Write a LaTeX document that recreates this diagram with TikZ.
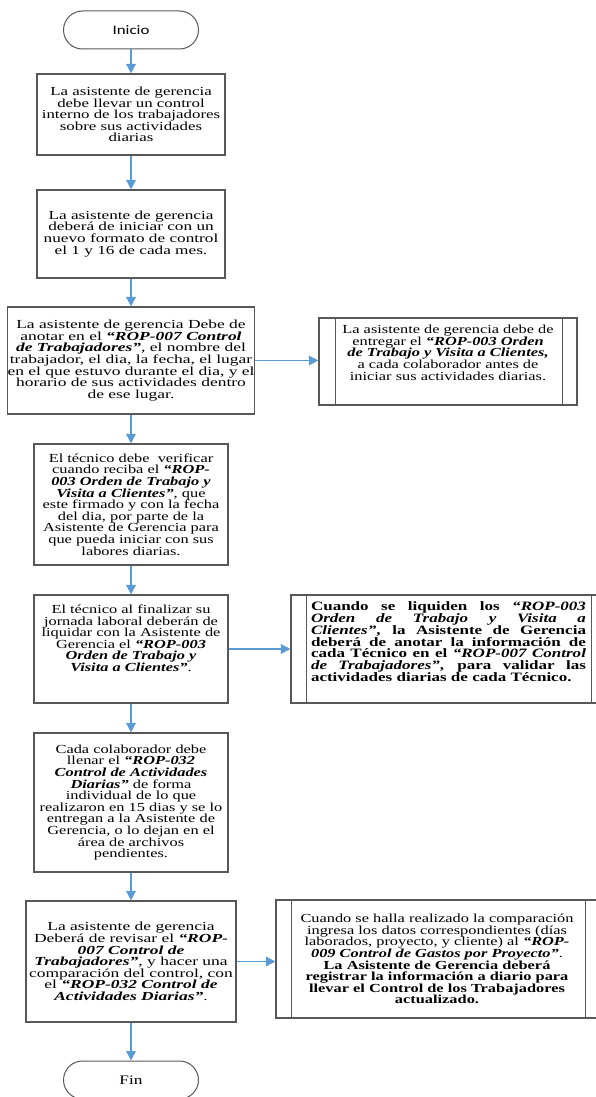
\documentclass[tikz,border=0pt]{standalone}
\usepackage{fontspec}
\setmainfont{Liberation Serif}[FakeStretch=1.33]
% wider cuts of the same face for the boxes with more spread-out lettering
\newfontfamily\wideA{Liberation Serif}[FakeStretch=1.42]
\newfontfamily\wideC{Liberation Serif}[FakeStretch=1.37]
\newfontfamily\wideD{Liberation Serif}[FakeStretch=1.40]
\newfontfamily\labelfont{Carlito}[FakeStretch=1.3]
\usetikzlibrary{shapes.misc,arrows.meta}

\definecolor{boxgray}{RGB}{88,88,88}
\definecolor{flowblue}{RGB}{91,155,213}
\newcommand\refdoc[1]{\textbf{\textit{#1}}}
% one fully justified line of the given width
\newcommand\jline[2]{\makebox[#1][s]{\spaceskip=0pt\xspaceskip=0pt\relax #2}}

\tikzset{
  flowbox/.style={draw=boxgray, line width=1.1pt, rectangle, align=center,
    inner sep=0pt, font=\fontsize{12.3}{11.6}\selectfont},
  procbox/.style={flowbox},
  divider/.style={draw=boxgray, line width=1.1pt},
  terminal/.style={draw=boxgray, line width=1pt, rounded rectangle,
    minimum width=135pt, minimum height=38pt, inner sep=0pt},
  flow/.style={draw=flowblue, line width=1.5pt,
    -{Triangle[length=9.5pt,width=9.5pt]}},
}

\begin{document}
\begin{tikzpicture}[x=1pt,y=-1pt]
\useasboundingbox (0,0) rectangle (595,1097);

% start and end
\node[terminal, font=\labelfont\fontsize{13}{14}\selectfont] (inicio) at (131,30) {Inicio};
\node[terminal, font=\fontsize{13}{14}\selectfont] (fin) at (131,1080) {Fin};

% main column
\node[flowbox, minimum width=188pt, minimum height=81pt,
  font=\wideC\fontsize{12.3}{11.6}\selectfont] (b1) at (131,114.5)
  {La asistente de gerencia\\debe llevar un control\\interno de los trabajadores\\sobre sus actividades\\diarias};

\node[flowbox, minimum width=188pt, minimum height=88pt,
  font=\wideD\fontsize{12.3}{11.9}\selectfont] (b2) at (131,234)
  {La asistente de gerencia\\deberá de iniciar con un\\nuevo formato de control\\el 1 y 16 de cada mes.};

\node[flowbox, minimum width=242pt, minimum height=107pt,
  font=\wideA\fontsize{12.3}{11.6}\selectfont] (b3) at (131,360.5)
  {La asistente de gerencia Debe de\\anotar en el \refdoc{“ROP-007 Control}\\\refdoc{de Trabajadores”}, el nombre del\\trabajador, el dia, la fecha, el lugar\\en el que estuvo durante el dia, y el\\horario de sus actividades dentro\\de ese lugar.};

\node[flowbox, minimum width=194pt, minimum height=121pt] (b4) at (131,504.5)
  {El técnico debe\ \ verificar\\cuando reciba el \refdoc{“ROP-}\\\refdoc{003 Orden de Trabajo y}\\\refdoc{Visita a Clientes”}, que\\este firmado y con la fecha\\del dia, por parte de la\\Asistente de Gerencia para\\que pueda iniciar con sus\\labores diarias.};

\node[flowbox, minimum width=194pt, minimum height=108pt] (b5) at (131,649)
  {El técnico al finalizar su\\jornada laboral deberán de\\liquidar con la Asistente de\\Gerencia el \refdoc{“ROP-003}\\\refdoc{Orden de Trabajo y}\\\refdoc{Visita a Clientes”}.\\[10pt]};

\node[flowbox, minimum width=194pt, minimum height=139pt] (b6) at (131,802.5)
  {Cada colaborador debe\\llenar el \refdoc{“ROP-032}\\\refdoc{Control de Actividades}\\\refdoc{Diarias”} de forma\\individual de lo que\\realizaron en 15 dias y se lo\\entregan a la Asistente de\\Gerencia, o lo dejan en el\\área de archivos\\pendientes.};

\node[flowbox, minimum width=210pt, minimum height=121pt,
  font=\wideA\fontsize{12.3}{11.6}\selectfont] (b7) at (131,961.5)
  {La asistente de gerencia\\Deberá de revisar el \refdoc{“ROP-}\\\refdoc{007 Control de}\\\refdoc{Trabajadores”}, y hacer una\\comparación del control, con\\el \refdoc{“ROP-032 Control de}\\\refdoc{Actividades Diarias”}.};

% side process boxes
\node[procbox, minimum width=258pt, minimum height=87pt] (r1) at (448,361.5)
  {La asistente de gerencia debe de\\entregar el \refdoc{“ROP-003 Orden}\\\refdoc{de Trabajo y Visita a Clientes,}\\a cada colaborador antes de\\iniciar sus actividades diarias.\\[6pt]};
\draw[divider] ([xshift=17pt]r1.north west) -- ([xshift=17pt]r1.south west);
\draw[divider] ([xshift=-15pt]r1.north east) -- ([xshift=-15pt]r1.south east);

\node[procbox, minimum width=315pt, minimum height=108pt, align=left,
  font=\bfseries\fontsize{12.8}{11.7}\selectfont] (r2) at (448.5,649)
  {\jline{275pt}{Cuando se liquiden los \textit{“ROP-003}}\\
   \jline{275pt}{\textit{Orden de Trabajo y Visita a}}\\
   \jline{275pt}{\textit{Clientes”}, la Asistente de Gerencia}\\
   \jline{275pt}{deberá de anotar la información de}\\
   \jline{275pt}{cada Técnico en el \textit{“ROP-007 Control}}\\
   \jline{275pt}{\textit{de Trabajadores”}, para validar las}\\
   actividades diarias de cada Técnico.\\[3pt]};
\draw[divider] ([xshift=16pt]r2.north west) -- ([xshift=16pt]r2.south west);
\draw[divider] ([xshift=-15pt]r2.north east) -- ([xshift=-15pt]r2.south east);

\node[procbox, minimum width=322pt, minimum height=118pt] (r3) at (437,959)
  {Cuando se halla realizado la comparación\\ingresa los datos correspondientes (días\\laborados, proyecto, y cliente) al \refdoc{“ROP-}\\\refdoc{009 Control de Gastos por Proyecto”}.\\
   \textbf{La Asistente de Gerencia deberá}\\\textbf{registrar la información a diario para}\\\textbf{llevar el Control de los Trabajadores}\\\textbf{actualizado.}};
\draw[divider] ([xshift=16pt]r3.north west) -- ([xshift=16pt]r3.south west);
\draw[divider] ([xshift=-13pt]r3.north east) -- ([xshift=-13pt]r3.south east);

% connectors
\draw[flow] (inicio.south) -- (b1.north);
\draw[flow] (b1.south) -- (b2.north);
\draw[flow] (b2.south) -- (b3.north);
\draw[flow] (b3.south) -- (b4.north);
\draw[flow] (b4.south) -- (b5.north);
\draw[flow] (b5.south) -- (b6.north);
\draw[flow] (b6.south) -- (b7.north);
\draw[flow] (b7.south) -- (fin.north);
\draw[flow] (b3.east) -- (b3.east -| r1.west);
\draw[flow] (b5.east) -- (b5.east -| r2.west);
\draw[flow] (b7.east) -- (b7.east -| r3.west);
\end{tikzpicture}
\end{document}
